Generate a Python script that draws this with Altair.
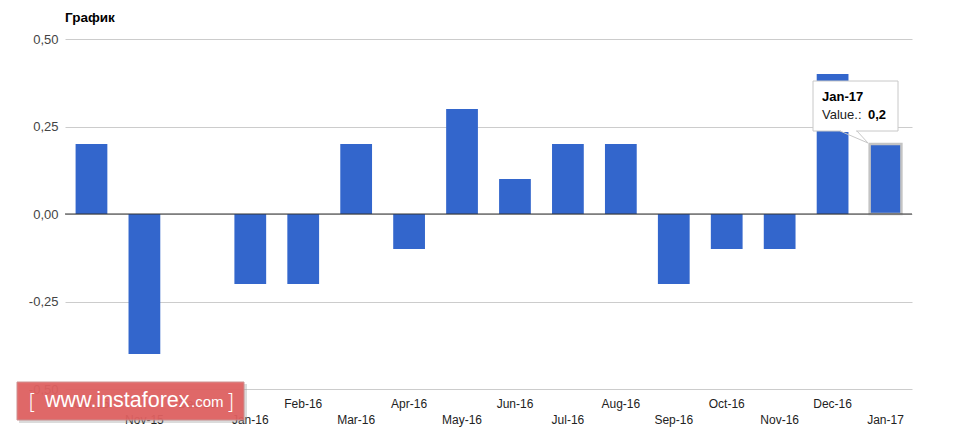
import altair as alt
import pandas as pd

months = ["Oct-15", "Nov-15", "Dec-15", "Jan-16", "Feb-16", "Mar-16", "Apr-16", "May-16",
          "Jun-16", "Jul-16", "Aug-16", "Sep-16", "Oct-16", "Nov-16", "Dec-16", "Jan-17"]
values = [0.2, -0.4, 0.0, -0.2, -0.2, 0.2, -0.1, 0.3, 0.1, 0.2, 0.2, -0.2, -0.1, -0.1, 0.4, 0.2]
y_ticks = [-0.5, -0.25, 0.0, 0.25, 0.5]
title_text = "График"
hover_month = "Jan-17"

df = pd.DataFrame({"month": months, "value": values,
                   "row": [i % 2 for i in range(len(months))]})
hov = df[df["month"] == hover_month].reset_index(drop=True)
hov_value_label = f"{hov['value'].iloc[0]:.1f}".replace(".", ",")

W, H = 847, 350
xscale = alt.Scale(domain=months, paddingInner=0.4, paddingOuter=0.2)
yscale = alt.Scale(domain=[-0.5, 0.5], nice=False, zero=False)
X = alt.X("month:N", scale=xscale, sort=months, axis=None)

label_expr = "(datum.value < 0 ? '-' : '') + replace(format(abs(datum.value), '.2f'), '.', ',')"

bars = alt.Chart(df).mark_bar(color="#3366cc").encode(
    x=X,
    y=alt.Y("value:Q", scale=yscale,
            axis=alt.Axis(values=y_ticks, grid=True, gridColor="#cccccc", gridWidth=1,
                          domain=False, ticks=False, labelExpr=label_expr,
                          labelFont="Arial", labelFontSize=13, labelColor="#444444",
                          labelPadding=7, title=None)),
    y2=alt.datum(0),
)

hl = alt.Chart(hov).mark_bar(filled=False, stroke="#c4c4c4", strokeWidth=2.5).encode(
    x=X, y=alt.Y("value:Q", scale=yscale), y2=alt.datum(0)
)

zero = alt.Chart(hov).mark_rule(color="#333333", strokeWidth=1).encode(
    y=alt.datum(0), x=alt.value(0), x2=alt.value(W)
)

upper = alt.Chart(df).transform_filter("datum.row == 0").mark_text(
    font="Arial", fontSize=12, color="#222222", baseline="middle"
).encode(x=X, y=alt.value(H + 15), text="month:N")

lower = alt.Chart(df).transform_filter("datum.row == 1").mark_text(
    font="Arial", fontSize=12, color="#222222", baseline="middle"
).encode(x=X, y=alt.value(H + 31), text="month:N")

title = alt.Chart(hov).mark_text(
    text=title_text, font="Arial", fontSize=13.5, fontWeight="bold", color="#000000",
    align="left", baseline="middle"
).encode(x=alt.value(0), y=alt.value(-21))

# tooltip box
tip_box = alt.Chart(hov).mark_rect(fill="white", stroke="#c8c8c8", strokeWidth=1).encode(
    x=alt.value(748), x2=alt.value(833), y=alt.value(42), y2=alt.value(92)
)
tip_gap = alt.Chart(hov).mark_rule(color="white", strokeWidth=2).encode(
    x=alt.value(776), x2=alt.value(791), y=alt.value(92), y2=alt.value(92)
)
tip_p1 = alt.Chart(hov).mark_rule(color="#c8c8c8", strokeWidth=1).encode(
    x=alt.value(775), x2=alt.value(803), y=alt.value(92), y2=alt.value(104)
)
tip_p2 = alt.Chart(hov).mark_rule(color="#c8c8c8", strokeWidth=1).encode(
    x=alt.value(792), x2=alt.value(803), y=alt.value(92), y2=alt.value(104)
)
tip_t1 = alt.Chart(hov).mark_text(
    font="Arial", fontSize=13, fontWeight="bold", color="#000000", align="left", baseline="middle"
).encode(x=alt.value(757), y=alt.value(58), text="month:N")
tip_t2 = alt.Chart(hov).mark_text(
    text="Value.:", font="Arial", fontSize=13, color="#222222", align="left", baseline="middle"
).encode(x=alt.value(757), y=alt.value(76))
tip_t3 = alt.Chart(hov).mark_text(
    text=hov_value_label, font="Arial", fontSize=13, fontWeight="bold", color="#000000",
    align="left", baseline="middle"
).encode(x=alt.value(803), y=alt.value(76))

# watermark
wm_shadow = alt.Chart(hov).mark_rect(fill="#999999", opacity=0.35).encode(
    x=alt.value(-46), x2=alt.value(182), y=alt.value(345), y2=alt.value(384)
)
wm_box = alt.Chart(hov).mark_rect(fill="#e05f5f", stroke="#c98a8a", strokeWidth=1, opacity=0.92).encode(
    x=alt.value(-48), x2=alt.value(179), y=alt.value(343), y2=alt.value(381)
)
wm_l = alt.Chart(hov).mark_text(text="[", font="DejaVu Sans", fontSize=22, fontWeight=300,
                                color="white", align="left", baseline="alphabetic").encode(
    x=alt.value(-37), y=alt.value(370))
wm_main = alt.Chart(hov).mark_text(text="www.instaforex", font="Liberation Sans", fontSize=21.5,
                                   color="white", align="left", baseline="alphabetic").encode(
    x=alt.value(-20), y=alt.value(368))
wm_com = alt.Chart(hov).mark_text(text=".com", font="Liberation Sans", fontSize=15,
                                  color="white", align="left", baseline="alphabetic").encode(
    x=alt.value(126), y=alt.value(368))
wm_r = alt.Chart(hov).mark_text(text="]", font="DejaVu Sans", fontSize=22, fontWeight=300,
                                color="white", align="left", baseline="alphabetic").encode(
    x=alt.value(161), y=alt.value(370))

chart = alt.layer(
    bars, hl, zero, upper, lower, title,
    tip_box, tip_gap, tip_p1, tip_p2, tip_t1, tip_t2, tip_t3,
    wm_shadow, wm_box, wm_l, wm_main, wm_com, wm_r
).properties(
    width=W, height=H,
    background="white",
    view=alt.ViewBackground(strokeWidth=0, stroke="transparent"),
    autosize=alt.AutoSizeParams(type="none"),
    padding={"left": 57, "top": 31, "right": 20, "bottom": 40},
).configure_view(strokeWidth=0, stroke="transparent")

chart.save("out.html", embed_options={"renderer": "svg", "actions": False})
